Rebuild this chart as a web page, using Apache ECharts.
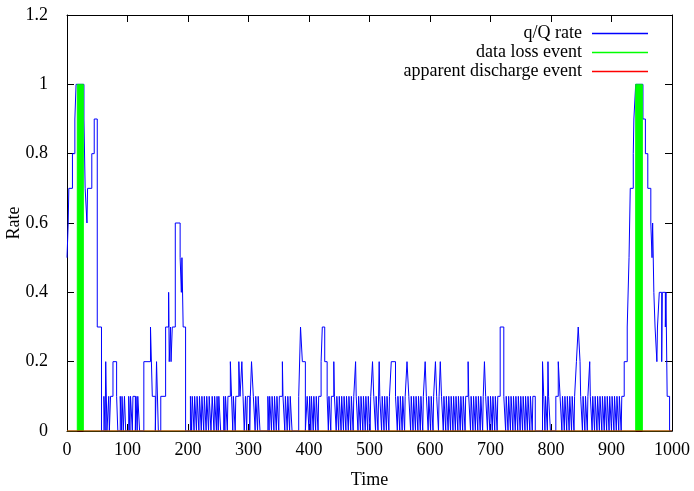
<!DOCTYPE html>
<html>
<head>
<meta charset="utf-8">
<script src="https://cdn.jsdelivr.net/npm/echarts@6/dist/echarts.min.js"></script>
<style>
  html, body { margin: 0; padding: 0; background: #fff; }
  #main { width: 694px; height: 491px; }
</style>
</head>
<body>
<div id="main"></div>
<script>
// q/Q rate, [time, rate] - value holds until next time (step line)
const rateData = [
  [0, 0.5], [2, 0.6], [3, 0.7], [9, 0.8], [13, 0.9], [15, 1.0], [28, 0.9], [30, 0.7], [33, 0.6], [34, 0.7],
  [41, 0.8], [45, 0.9], [50, 0.3], [57, 0], [61, 0.1], [63, 0], [64, 0.2], [66, 0], [69, 0.1], [70, 0],
  [72, 0.1], [76, 0.2], [82, 0.1], [84, 0], [88, 0.1], [90, 0], [91, 0.1], [93, 0], [95, 0.1], [97, 0],
  [102, 0.1], [104, 0], [105, 0.1], [108, 0], [109, 0.1], [113, 0], [114, 0.1], [116, 0], [117, 0.1], [120, 0],
  [127, 0.2], [138, 0.3], [141, 0.1], [146, 0], [148, 0.2], [151, 0], [155, 0.1], [163, 0.3], [168, 0.4], [169, 0.2],
  [171, 0.3], [172, 0.2], [174, 0.3], [179, 0.6], [187, 0.5], [189, 0.4], [190, 0.5], [192, 0.3], [196, 0],
  [204, 0.1], [206, 0], [207, 0.1], [210, 0], [211, 0.1], [214, 0], [215, 0.1], [218, 0], [219, 0.1], [222, 0],
  [223, 0.1], [226, 0], [227, 0.1], [230, 0], [231, 0.1], [234, 0], [235, 0.1], [238, 0], [240, 0.1], [243, 0],
  [244, 0.1], [247, 0], [248, 0.1], [250, 0], [251, 0.1], [254, 0], [259, 0.1], [261, 0], [262, 0.1], [265, 0],
  [266, 0.1], [270, 0.2], [272, 0.1], [274, 0], [275, 0.1], [278, 0], [279, 0.1], [284, 0.2], [286, 0.1], [289, 0.2],
  [291, 0.1], [293, 0], [295, 0.1], [297, 0], [298, 0.1], [302, 0], [303, 0.1], [305, 0.2], [308, 0.1], [311, 0],
  [312, 0.1], [315, 0], [316, 0.1], [319, 0], [332, 0.1], [334, 0], [335, 0.1], [338, 0], [339, 0.1], [342, 0],
  [343, 0.1], [346, 0], [347, 0.1], [350, 0], [351, 0.1], [356, 0.2], [357, 0.1], [360, 0], [361, 0.1], [364, 0],
  [365, 0.1], [368, 0], [369, 0.1], [372, 0], [383, 0.1], [386, 0.3], [389, 0.2], [394, 0], [397, 0.1], [400, 0],
  [401, 0.1], [403, 0], [404, 0.1], [407, 0], [408, 0.1], [411, 0], [412, 0.1], [415, 0], [416, 0.1], [420, 0.2],
  [422, 0.3], [426, 0.2], [430, 0.1], [432, 0], [433, 0.1], [436, 0], [437, 0.1], [441, 0.2], [442, 0.1], [445, 0],
  [446, 0.1], [449, 0], [450, 0.1], [453, 0], [454, 0.1], [457, 0], [458, 0.1], [461, 0], [462, 0.1], [465, 0],
  [466, 0.1], [469, 0], [470, 0.1], [473, 0], [474, 0.1], [477, 0.2], [478, 0.1], [481, 0], [482, 0.1], [485, 0],
  [486, 0.1], [489, 0], [490, 0.1], [493, 0], [494, 0.1], [497, 0], [498, 0.1], [501, 0], [502, 0.1], [505, 0.2],
  [507, 0.1], [510, 0], [511, 0.1], [514, 0], [516, 0.2], [517, 0.1], [520, 0], [521, 0.1], [524, 0], [525, 0.1],
  [528, 0], [529, 0.1], [532, 0], [533, 0.1], [536, 0.2], [543, 0.1], [546, 0], [547, 0.1], [550, 0], [551, 0.1],
  [554, 0], [555, 0.1], [558, 0], [559, 0.1], [562, 0.2], [565, 0.1], [568, 0], [569, 0.1], [572, 0], [573, 0.1],
  [576, 0], [577, 0.1], [580, 0], [581, 0.1], [584, 0], [585, 0.1], [588, 0], [589, 0.1], [592, 0.2], [594, 0.1],
  [597, 0], [598, 0.1], [601, 0], [602, 0.1], [605, 0], [606, 0.1], [609, 0.2], [611, 0.1], [614, 0], [615, 0.1],
  [617, 0.2], [619, 0.1], [622, 0], [623, 0.1], [626, 0], [627, 0.1], [630, 0], [631, 0.1], [634, 0], [635, 0.1],
  [638, 0], [639, 0.1], [642, 0], [643, 0.1], [646, 0], [647, 0.1], [650, 0], [651, 0.1], [654, 0], [655, 0.1],
  [658, 0], [659, 0.1], [663, 0.2], [664, 0.1], [667, 0], [668, 0.1], [671, 0], [672, 0.1], [675, 0], [676, 0.1],
  [679, 0], [680, 0.1], [683, 0], [684, 0.1], [687, 0], [688, 0.1], [690, 0.2], [692, 0.1], [695, 0], [696, 0.1],
  [699, 0], [700, 0.1], [703, 0], [704, 0.1], [707, 0], [708, 0.1], [711, 0], [712, 0.1], [716, 0.3], [722, 0.1],
  [725, 0], [726, 0.1], [729, 0], [730, 0.1], [733, 0], [734, 0.1], [737, 0], [738, 0.1], [741, 0], [742, 0.1],
  [745, 0], [746, 0.1], [749, 0], [750, 0.1], [753, 0], [754, 0.1], [757, 0], [758, 0.1], [761, 0], [762, 0.1],
  [765, 0], [766, 0.1], [769, 0], [770, 0.1], [774, 0], [786, 0.2], [788, 0.1], [790, 0], [791, 0.1], [794, 0],
  [795, 0.2], [796, 0.1], [799, 0], [808, 0.1], [812, 0.2], [815, 0.1], [818, 0], [819, 0.1], [822, 0], [823, 0.1],
  [826, 0], [827, 0.1], [830, 0], [831, 0.1], [834, 0], [835, 0.1], [838, 0], [839, 0.1], [842, 0.2], [845, 0.3],
  [848, 0.2], [849, 0.1], [852, 0], [853, 0.1], [856, 0], [857, 0.1], [860, 0], [861, 0.1], [864, 0.2], [865, 0.1],
  [868, 0], [869, 0.1], [872, 0], [873, 0.1], [876, 0], [877, 0.1], [880, 0], [881, 0.1], [884, 0], [885, 0.1],
  [888, 0], [889, 0.1], [892, 0], [893, 0.1], [896, 0], [897, 0.1], [900, 0], [901, 0.1], [904, 0], [905, 0.1],
  [908, 0], [909, 0.1], [912, 0], [913, 0.1], [916, 0], [917, 0.1], [921, 0.2], [926, 0.3], [929, 0.5], [931, 0.7],
  [936, 0.8], [937, 0.9], [940, 1.0], [952, 0.9], [956, 0.8], [960, 0.7], [965, 0.6], [967, 0.5], [968, 0.6], [970, 0.4],
  [972, 0.3], [975, 0.2], [976, 0.3], [979, 0.4], [983, 0.2], [984, 0.4], [989, 0.3], [990, 0.4], [992, 0.1], [996, 0],
  [1000, 0]
];

// data loss event (0/1)
const lossData = [[0, 0], [17, 1], [27, 0], [940, 1], [951, 0], [1000, 0]];

// apparent discharge event (0/1)
const dischargeData = [[0, 0], [1000, 0]];

const seriesNames = ['q/Q rate', 'data loss event', 'apparent discharge event'];
const seriesColors = ['#0000ff', '#00ff00', '#ff0000'];

const font = 'Liberation Serif, Times New Roman, serif';
const chart = echarts.init(document.getElementById('main'));

const boxAxis = {
  axisLine: { show: true, onZero: false, lineStyle: { color: '#000', width: 1 } },
  axisTick: { show: true, inside: true, length: 7, lineStyle: { color: '#000' } },
  splitLine: { show: false }
};

const option = {
  animation: false,
  backgroundColor: '#fff',
  grid: { left: 67, right: 22, top: 15, bottom: 60, outerBoundsMode: 'none' },
  legend: {
    data: seriesNames,
    orient: 'vertical',
    right: 46,
    top: 24,
    padding: 0,
    align: 'right',
    icon: 'rect',
    itemWidth: 56,
    itemHeight: 1.5,
    itemGap: 0,
    textStyle: { fontFamily: font, fontSize: 18, lineHeight: 19, color: '#000', padding: [0, 5, 0, 0] }
  },
  xAxis: [{
    type: 'value', min: 0, max: 1000, interval: 100,
    name: 'Time', nameLocation: 'middle', nameGap: 40,
    nameTextStyle: { fontFamily: font, fontSize: 18, color: '#000' },
    axisLabel: { fontFamily: font, fontSize: 18, color: '#000', margin: 10, formatter: v => String(v) },
    ...boxAxis
  }, {
    type: 'value', min: 0, max: 1000, interval: 100, position: 'top',
    axisLabel: { show: false },
    ...boxAxis
  }],
  yAxis: [{
    type: 'value', min: 0, max: 1.2, interval: 0.2,
    name: 'Rate', nameLocation: 'middle', nameGap: 44, nameMoveOverlap: false,
    nameTextStyle: { fontFamily: font, fontSize: 18, color: '#000' },
    axisLabel: { fontFamily: font, fontSize: 18, color: '#000', margin: 19 },
    ...boxAxis
  }, {
    type: 'value', min: 0, max: 1.2, interval: 0.2, position: 'right',
    axisLabel: { show: false },
    ...boxAxis
  }],
  series: [{
    name: seriesNames[0],
    type: 'line',
    step: 'end',
    data: rateData,
    symbol: 'none',
    lineStyle: { color: seriesColors[0], width: 1 },
    itemStyle: { color: seriesColors[0] }
  }, {
    name: seriesNames[1],
    type: 'line',
    step: 'end',
    data: lossData,
    symbol: 'none',
    lineStyle: { color: seriesColors[1], width: 1 },
    itemStyle: { color: seriesColors[1] },
    areaStyle: { color: seriesColors[1], opacity: 1 }
  }, {
    name: seriesNames[2],
    type: 'line',
    data: dischargeData,
    symbol: 'none',
    lineStyle: { color: seriesColors[2], width: 1 },
    itemStyle: { color: seriesColors[2] }
  }]
};

chart.setOption(option);
</script>
</body>
</html>
